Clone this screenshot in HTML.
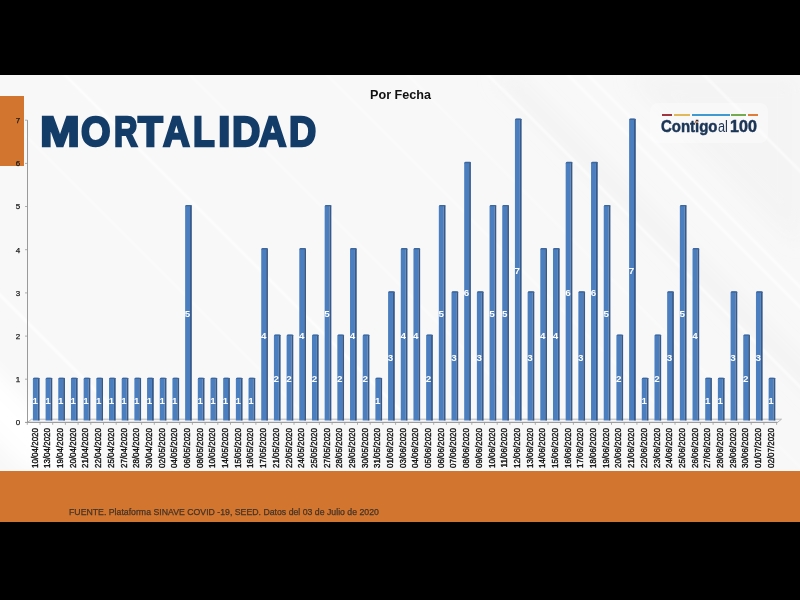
<!DOCTYPE html>
<html><head><meta charset="utf-8">
<style>
html,body{margin:0;padding:0;}
body{width:800px;height:600px;background:#000;position:relative;overflow:hidden;font-family:"Liberation Sans",sans-serif;}
#slide{position:absolute;left:0;top:75px;width:800px;height:396px;background:#f8f8f8;overflow:hidden;}
#orangeTop{position:absolute;left:0;top:96px;width:24px;height:70px;background:#d2752e;}
#band{position:absolute;left:0;top:471px;width:800px;height:51px;background:#d2752e;}
#fuente{position:absolute;left:69px;top:506.6px;font-size:8.6px;color:#443328;-webkit-text-stroke:0.25px #443328;transform:scaleX(1.016);transform-origin:0 0;white-space:nowrap;}
.tl{position:absolute;top:110.2px;font-size:43.2px;-webkit-text-stroke:2.4px #143c68;font-weight:bold;color:#143c68;white-space:nowrap;line-height:1;transform-origin:0 0;}
#porfecha{position:absolute;left:370px;top:88px;font-size:13.7px;transform:scaleX(0.922);font-weight:bold;color:#111;white-space:nowrap;line-height:1;transform-origin:0 0;}
svg{position:absolute;left:0;top:0;}
#logo{position:absolute;left:650px;top:103px;width:118px;height:40px;background:rgba(255,255,255,0.35);border-radius:8px;}
.cb{position:absolute;top:114px;height:2px;}
.lt{position:absolute;white-space:nowrap;line-height:1;color:#1b3556;transform-origin:0 0;}

.yl{font-size:8px;fill:#1a1a1a;text-anchor:middle;stroke:#1a1a1a;stroke-width:0.25px;}
.bl{font-size:9.8px;fill:#ffffff;text-anchor:middle;font-weight:bold;}
.xl{font-size:8.6px;fill:#0a0a0a;text-anchor:end;stroke:#0a0a0a;stroke-width:0.35px;}
</style></head><body>
<div id="slide">
<svg width="800" height="396" viewBox="0 75 800 396" style="position:absolute;left:0;top:0">
<defs><filter id="bl" x="-20%" y="-20%" width="140%" height="140%"><feGaussianBlur stdDeviation="0.9"/></filter>
<filter id="bl2" x="-50%" y="-50%" width="200%" height="200%"><feGaussianBlur stdDeviation="10"/></filter></defs>
<g filter="url(#bl2)">
<polygon points="-370,75 -300,75 95,470 25,470" fill="#ffffff" opacity="0.9"/>
<polygon points="493,75 513,75 908,470 888,470" fill="#e9e9e9" opacity="0.4"/>
<polygon points="629,75 800,75 800,246" fill="#eeeeee" opacity="0.4"/>
</g>
<g filter="url(#bl)" stroke="#ffffff">
<line x1="-225" y1="70" x2="180" y2="475" stroke-width="2.5" opacity="0.9"/>
<line x1="-40" y1="70" x2="365" y2="475" stroke-width="1.5" opacity="0.7"/>
<line x1="60" y1="70" x2="465" y2="475" stroke-width="2.2" opacity="0.95"/>
<line x1="185" y1="70" x2="590" y2="475" stroke-width="1.5" opacity="0.7"/>
<line x1="322" y1="70" x2="727" y2="475" stroke-width="1.5" opacity="0.7"/>
<line x1="403" y1="70" x2="808" y2="475" stroke-width="1.5" opacity="0.6"/>
<line x1="483" y1="70" x2="888" y2="475" stroke-width="2" opacity="0.85"/>
<line x1="563" y1="70" x2="968" y2="475" stroke-width="2" opacity="0.9"/>
<line x1="583" y1="70" x2="988" y2="475" stroke-width="2" opacity="0.9"/>
<line x1="699" y1="70" x2="1104" y2="475" stroke-width="2" opacity="0.8"/>
</g>
</svg>
</div>
<div id="orangeTop"></div>
<div id="band"></div>
<div id="fuente">FUENTE. Plataforma SINAVE COVID -19, SEED. Datos del 03 de Julio de 2020</div>
<div class="tl" style="left:40.29px;transform:scaleX(1.106)">M</div>
<div class="tl" style="left:81.02px;transform:scaleX(0.879)">O</div>
<div class="tl" style="left:114.09px;transform:scaleX(0.755)">R</div>
<div class="tl" style="left:138.14px;transform:scaleX(0.938)">T</div>
<div class="tl" style="left:162.50px;transform:scaleX(0.859)">A</div>
<div class="tl" style="left:193.05px;transform:scaleX(0.824)">L</div>
<div class="tl" style="left:217.91px;transform:scaleX(1.044)">I</div>
<div class="tl" style="left:232.19px;transform:scaleX(0.907)">D</div>
<div class="tl" style="left:259.40px;transform:scaleX(0.878)">A</div>
<div class="tl" style="left:288.56px;transform:scaleX(0.872)">D</div>
<div id="porfecha">Por Fecha</div>
<div id="logo"></div>
<div class="cb" style="left:662px;width:10px;background:#a0343f"></div>
<div class="cb" style="left:673.5px;width:16px;background:#e2b95a"></div>
<div class="cb" style="left:691.5px;width:38px;background:#3f9ad0"></div>
<div class="cb" style="left:731.3px;width:14.6px;background:#74ab50"></div>
<div class="cb" style="left:747.8px;width:9.8px;background:#e07d3a"></div>
<div class="lt" id="l1" style="left:661.3px;top:118.3px;font-size:17.1px;font-weight:bold;-webkit-text-stroke:0.5px #1b3556;transform:scaleX(0.875)">Contigo</div>
<div class="lt" id="l2" style="left:718.2px;top:118.6px;font-size:16px;font-weight:normal;transform:scaleX(0.8)">al</div>
<div class="lt" id="l3" style="left:730.3px;top:119.2px;font-size:16.8px;font-weight:bold;-webkit-text-stroke:0.5px #1b3556;transform:scaleX(0.96)">100</div>
<div style="position:absolute;left:695.3px;top:121.1px;width:2.8px;height:2.3px;background:#d68a55"></div>

<svg width="800" height="600" viewBox="0 0 800 600">
<line x1="27.5" y1="120.2" x2="27.5" y2="422.5" stroke="#9a9a9a" stroke-width="1"/>
<text x="18" y="425.3" class="yl">0</text>
<line x1="25" y1="379.2" x2="27.5" y2="379.2" stroke="#9a9a9a" stroke-width="0.8"/>
<text x="18" y="382.1" class="yl">1</text>
<line x1="25" y1="336.1" x2="27.5" y2="336.1" stroke="#9a9a9a" stroke-width="0.8"/>
<text x="18" y="339.0" class="yl">2</text>
<line x1="25" y1="292.9" x2="27.5" y2="292.9" stroke="#9a9a9a" stroke-width="0.8"/>
<text x="18" y="295.8" class="yl">3</text>
<line x1="25" y1="249.7" x2="27.5" y2="249.7" stroke="#9a9a9a" stroke-width="0.8"/>
<text x="18" y="252.6" class="yl">4</text>
<line x1="25" y1="206.5" x2="27.5" y2="206.5" stroke="#9a9a9a" stroke-width="0.8"/>
<text x="18" y="209.4" class="yl">5</text>
<line x1="25" y1="163.4" x2="27.5" y2="163.4" stroke="#9a9a9a" stroke-width="0.8"/>
<text x="18" y="166.3" class="yl">6</text>
<line x1="25" y1="120.2" x2="27.5" y2="120.2" stroke="#9a9a9a" stroke-width="0.8"/>
<text x="18" y="123.1" class="yl">7</text>
<path d="M27.5 422.4 L777.5 422.4 L781.5 419.2 L31.5 419.2 Z" fill="#f4f6f9" stroke="#a8a8a8" stroke-width="0.8"/>
<line x1="25" y1="422.4" x2="777.5" y2="422.4" stroke="#9a9a9a" stroke-width="1"/>
<line x1="27.30" y1="422.4" x2="27.30" y2="424.8" stroke="#9a9a9a" stroke-width="0.8"/>
<line x1="40.00" y1="422.4" x2="40.00" y2="424.8" stroke="#9a9a9a" stroke-width="0.8"/>
<line x1="52.70" y1="422.4" x2="52.70" y2="424.8" stroke="#9a9a9a" stroke-width="0.8"/>
<line x1="65.40" y1="422.4" x2="65.40" y2="424.8" stroke="#9a9a9a" stroke-width="0.8"/>
<line x1="78.10" y1="422.4" x2="78.10" y2="424.8" stroke="#9a9a9a" stroke-width="0.8"/>
<line x1="90.80" y1="422.4" x2="90.80" y2="424.8" stroke="#9a9a9a" stroke-width="0.8"/>
<line x1="103.50" y1="422.4" x2="103.50" y2="424.8" stroke="#9a9a9a" stroke-width="0.8"/>
<line x1="116.20" y1="422.4" x2="116.20" y2="424.8" stroke="#9a9a9a" stroke-width="0.8"/>
<line x1="128.90" y1="422.4" x2="128.90" y2="424.8" stroke="#9a9a9a" stroke-width="0.8"/>
<line x1="141.60" y1="422.4" x2="141.60" y2="424.8" stroke="#9a9a9a" stroke-width="0.8"/>
<line x1="154.30" y1="422.4" x2="154.30" y2="424.8" stroke="#9a9a9a" stroke-width="0.8"/>
<line x1="167.00" y1="422.4" x2="167.00" y2="424.8" stroke="#9a9a9a" stroke-width="0.8"/>
<line x1="179.70" y1="422.4" x2="179.70" y2="424.8" stroke="#9a9a9a" stroke-width="0.8"/>
<line x1="192.40" y1="422.4" x2="192.40" y2="424.8" stroke="#9a9a9a" stroke-width="0.8"/>
<line x1="205.10" y1="422.4" x2="205.10" y2="424.8" stroke="#9a9a9a" stroke-width="0.8"/>
<line x1="217.80" y1="422.4" x2="217.80" y2="424.8" stroke="#9a9a9a" stroke-width="0.8"/>
<line x1="230.50" y1="422.4" x2="230.50" y2="424.8" stroke="#9a9a9a" stroke-width="0.8"/>
<line x1="243.20" y1="422.4" x2="243.20" y2="424.8" stroke="#9a9a9a" stroke-width="0.8"/>
<line x1="255.90" y1="422.4" x2="255.90" y2="424.8" stroke="#9a9a9a" stroke-width="0.8"/>
<line x1="268.60" y1="422.4" x2="268.60" y2="424.8" stroke="#9a9a9a" stroke-width="0.8"/>
<line x1="281.30" y1="422.4" x2="281.30" y2="424.8" stroke="#9a9a9a" stroke-width="0.8"/>
<line x1="294.00" y1="422.4" x2="294.00" y2="424.8" stroke="#9a9a9a" stroke-width="0.8"/>
<line x1="306.70" y1="422.4" x2="306.70" y2="424.8" stroke="#9a9a9a" stroke-width="0.8"/>
<line x1="319.40" y1="422.4" x2="319.40" y2="424.8" stroke="#9a9a9a" stroke-width="0.8"/>
<line x1="332.10" y1="422.4" x2="332.10" y2="424.8" stroke="#9a9a9a" stroke-width="0.8"/>
<line x1="344.80" y1="422.4" x2="344.80" y2="424.8" stroke="#9a9a9a" stroke-width="0.8"/>
<line x1="357.50" y1="422.4" x2="357.50" y2="424.8" stroke="#9a9a9a" stroke-width="0.8"/>
<line x1="370.20" y1="422.4" x2="370.20" y2="424.8" stroke="#9a9a9a" stroke-width="0.8"/>
<line x1="382.90" y1="422.4" x2="382.90" y2="424.8" stroke="#9a9a9a" stroke-width="0.8"/>
<line x1="395.60" y1="422.4" x2="395.60" y2="424.8" stroke="#9a9a9a" stroke-width="0.8"/>
<line x1="408.30" y1="422.4" x2="408.30" y2="424.8" stroke="#9a9a9a" stroke-width="0.8"/>
<line x1="421.00" y1="422.4" x2="421.00" y2="424.8" stroke="#9a9a9a" stroke-width="0.8"/>
<line x1="433.70" y1="422.4" x2="433.70" y2="424.8" stroke="#9a9a9a" stroke-width="0.8"/>
<line x1="446.40" y1="422.4" x2="446.40" y2="424.8" stroke="#9a9a9a" stroke-width="0.8"/>
<line x1="459.10" y1="422.4" x2="459.10" y2="424.8" stroke="#9a9a9a" stroke-width="0.8"/>
<line x1="471.80" y1="422.4" x2="471.80" y2="424.8" stroke="#9a9a9a" stroke-width="0.8"/>
<line x1="484.50" y1="422.4" x2="484.50" y2="424.8" stroke="#9a9a9a" stroke-width="0.8"/>
<line x1="497.20" y1="422.4" x2="497.20" y2="424.8" stroke="#9a9a9a" stroke-width="0.8"/>
<line x1="509.90" y1="422.4" x2="509.90" y2="424.8" stroke="#9a9a9a" stroke-width="0.8"/>
<line x1="522.60" y1="422.4" x2="522.60" y2="424.8" stroke="#9a9a9a" stroke-width="0.8"/>
<line x1="535.30" y1="422.4" x2="535.30" y2="424.8" stroke="#9a9a9a" stroke-width="0.8"/>
<line x1="548.00" y1="422.4" x2="548.00" y2="424.8" stroke="#9a9a9a" stroke-width="0.8"/>
<line x1="560.70" y1="422.4" x2="560.70" y2="424.8" stroke="#9a9a9a" stroke-width="0.8"/>
<line x1="573.40" y1="422.4" x2="573.40" y2="424.8" stroke="#9a9a9a" stroke-width="0.8"/>
<line x1="586.10" y1="422.4" x2="586.10" y2="424.8" stroke="#9a9a9a" stroke-width="0.8"/>
<line x1="598.80" y1="422.4" x2="598.80" y2="424.8" stroke="#9a9a9a" stroke-width="0.8"/>
<line x1="611.50" y1="422.4" x2="611.50" y2="424.8" stroke="#9a9a9a" stroke-width="0.8"/>
<line x1="624.20" y1="422.4" x2="624.20" y2="424.8" stroke="#9a9a9a" stroke-width="0.8"/>
<line x1="636.90" y1="422.4" x2="636.90" y2="424.8" stroke="#9a9a9a" stroke-width="0.8"/>
<line x1="649.60" y1="422.4" x2="649.60" y2="424.8" stroke="#9a9a9a" stroke-width="0.8"/>
<line x1="662.30" y1="422.4" x2="662.30" y2="424.8" stroke="#9a9a9a" stroke-width="0.8"/>
<line x1="675.00" y1="422.4" x2="675.00" y2="424.8" stroke="#9a9a9a" stroke-width="0.8"/>
<line x1="687.70" y1="422.4" x2="687.70" y2="424.8" stroke="#9a9a9a" stroke-width="0.8"/>
<line x1="700.40" y1="422.4" x2="700.40" y2="424.8" stroke="#9a9a9a" stroke-width="0.8"/>
<line x1="713.10" y1="422.4" x2="713.10" y2="424.8" stroke="#9a9a9a" stroke-width="0.8"/>
<line x1="725.80" y1="422.4" x2="725.80" y2="424.8" stroke="#9a9a9a" stroke-width="0.8"/>
<line x1="738.50" y1="422.4" x2="738.50" y2="424.8" stroke="#9a9a9a" stroke-width="0.8"/>
<line x1="751.20" y1="422.4" x2="751.20" y2="424.8" stroke="#9a9a9a" stroke-width="0.8"/>
<line x1="763.90" y1="422.4" x2="763.90" y2="424.8" stroke="#9a9a9a" stroke-width="0.8"/>
<line x1="776.60" y1="422.4" x2="776.60" y2="424.8" stroke="#9a9a9a" stroke-width="0.8"/>
<path d="M32.90 420.6 L32.90 379.13 Q32.90 377.83 34.20 377.83 L37.80 377.83 L37.80 420.6 Z" fill="#4a7ebf"/>
<rect x="37.80" y="378.13" width="1.8" height="42.47" fill="#36598a"/>
<path d="M33.20 379.03 Q33.20 377.63 34.40 377.63 L38.90 377.63 L39.60 378.43 L39.60 379.03 Z" fill="#3d679c"/>
<text x="35.30" y="403.66" class="bl">1</text>
<path d="M45.59 420.6 L45.59 379.13 Q45.59 377.83 46.88 377.83 L50.48 377.83 L50.48 420.6 Z" fill="#4a7ebf"/>
<rect x="50.48" y="378.13" width="1.8" height="42.47" fill="#36598a"/>
<path d="M45.88 379.03 Q45.88 377.63 47.09 377.63 L51.59 377.63 L52.28 378.43 L52.28 379.03 Z" fill="#3d679c"/>
<text x="47.98" y="403.66" class="bl">1</text>
<path d="M58.27 420.6 L58.27 379.13 Q58.27 377.83 59.57 377.83 L63.17 377.83 L63.17 420.6 Z" fill="#4a7ebf"/>
<rect x="63.17" y="378.13" width="1.8" height="42.47" fill="#36598a"/>
<path d="M58.57 379.03 Q58.57 377.63 59.77 377.63 L64.27 377.63 L64.97 378.43 L64.97 379.03 Z" fill="#3d679c"/>
<text x="60.67" y="403.66" class="bl">1</text>
<path d="M70.95 420.6 L70.95 379.13 Q70.95 377.83 72.25 377.83 L75.85 377.83 L75.85 420.6 Z" fill="#4a7ebf"/>
<rect x="75.85" y="378.13" width="1.8" height="42.47" fill="#36598a"/>
<path d="M71.25 379.03 Q71.25 377.63 72.45 377.63 L76.95 377.63 L77.65 378.43 L77.65 379.03 Z" fill="#3d679c"/>
<text x="73.35" y="403.66" class="bl">1</text>
<path d="M83.64 420.6 L83.64 379.13 Q83.64 377.83 84.94 377.83 L88.54 377.83 L88.54 420.6 Z" fill="#4a7ebf"/>
<rect x="88.54" y="378.13" width="1.8" height="42.47" fill="#36598a"/>
<path d="M83.94 379.03 Q83.94 377.63 85.14 377.63 L89.64 377.63 L90.34 378.43 L90.34 379.03 Z" fill="#3d679c"/>
<text x="86.04" y="403.66" class="bl">1</text>
<path d="M96.32 420.6 L96.32 379.13 Q96.32 377.83 97.62 377.83 L101.22 377.83 L101.22 420.6 Z" fill="#4a7ebf"/>
<rect x="101.22" y="378.13" width="1.8" height="42.47" fill="#36598a"/>
<path d="M96.62 379.03 Q96.62 377.63 97.82 377.63 L102.32 377.63 L103.02 378.43 L103.02 379.03 Z" fill="#3d679c"/>
<text x="98.72" y="403.66" class="bl">1</text>
<path d="M109.01 420.6 L109.01 379.13 Q109.01 377.83 110.31 377.83 L113.91 377.83 L113.91 420.6 Z" fill="#4a7ebf"/>
<rect x="113.91" y="378.13" width="1.8" height="42.47" fill="#36598a"/>
<path d="M109.31 379.03 Q109.31 377.63 110.51 377.63 L115.01 377.63 L115.71 378.43 L115.71 379.03 Z" fill="#3d679c"/>
<text x="111.41" y="403.66" class="bl">1</text>
<path d="M121.69 420.6 L121.69 379.13 Q121.69 377.83 122.99 377.83 L126.59 377.83 L126.59 420.6 Z" fill="#4a7ebf"/>
<rect x="126.59" y="378.13" width="1.8" height="42.47" fill="#36598a"/>
<path d="M121.99 379.03 Q121.99 377.63 123.19 377.63 L127.69 377.63 L128.40 378.43 L128.40 379.03 Z" fill="#3d679c"/>
<text x="124.09" y="403.66" class="bl">1</text>
<path d="M134.38 420.6 L134.38 379.13 Q134.38 377.83 135.68 377.83 L139.28 377.83 L139.28 420.6 Z" fill="#4a7ebf"/>
<rect x="139.28" y="378.13" width="1.8" height="42.47" fill="#36598a"/>
<path d="M134.68 379.03 Q134.68 377.63 135.88 377.63 L140.38 377.63 L141.08 378.43 L141.08 379.03 Z" fill="#3d679c"/>
<text x="136.78" y="403.66" class="bl">1</text>
<path d="M147.06 420.6 L147.06 379.13 Q147.06 377.83 148.37 377.83 L151.97 377.83 L151.97 420.6 Z" fill="#4a7ebf"/>
<rect x="151.97" y="378.13" width="1.8" height="42.47" fill="#36598a"/>
<path d="M147.37 379.03 Q147.37 377.63 148.56 377.63 L153.06 377.63 L153.77 378.43 L153.77 379.03 Z" fill="#3d679c"/>
<text x="149.47" y="403.66" class="bl">1</text>
<path d="M159.75 420.6 L159.75 379.13 Q159.75 377.83 161.05 377.83 L164.65 377.83 L164.65 420.6 Z" fill="#4a7ebf"/>
<rect x="164.65" y="378.13" width="1.8" height="42.47" fill="#36598a"/>
<path d="M160.05 379.03 Q160.05 377.63 161.25 377.63 L165.75 377.63 L166.45 378.43 L166.45 379.03 Z" fill="#3d679c"/>
<text x="162.15" y="403.66" class="bl">1</text>
<path d="M172.43 420.6 L172.43 379.13 Q172.43 377.83 173.73 377.83 L177.33 377.83 L177.33 420.6 Z" fill="#4a7ebf"/>
<rect x="177.33" y="378.13" width="1.8" height="42.47" fill="#36598a"/>
<path d="M172.73 379.03 Q172.73 377.63 173.93 377.63 L178.43 377.63 L179.13 378.43 L179.13 379.03 Z" fill="#3d679c"/>
<text x="174.83" y="403.66" class="bl">1</text>
<path d="M185.12 420.6 L185.12 206.45 Q185.12 205.15 186.42 205.15 L190.02 205.15 L190.02 420.6 Z" fill="#4a7ebf"/>
<rect x="190.02" y="205.45" width="1.8" height="215.15" fill="#36598a"/>
<path d="M185.42 206.35 Q185.42 204.95 186.62 204.95 L191.12 204.95 L191.82 205.75 L191.82 206.35 Z" fill="#3d679c"/>
<text x="187.52" y="317.32" class="bl">5</text>
<path d="M197.80 420.6 L197.80 379.13 Q197.80 377.83 199.10 377.83 L202.70 377.83 L202.70 420.6 Z" fill="#4a7ebf"/>
<rect x="202.70" y="378.13" width="1.8" height="42.47" fill="#36598a"/>
<path d="M198.10 379.03 Q198.10 377.63 199.30 377.63 L203.80 377.63 L204.50 378.43 L204.50 379.03 Z" fill="#3d679c"/>
<text x="200.20" y="403.66" class="bl">1</text>
<path d="M210.49 420.6 L210.49 379.13 Q210.49 377.83 211.79 377.83 L215.39 377.83 L215.39 420.6 Z" fill="#4a7ebf"/>
<rect x="215.39" y="378.13" width="1.8" height="42.47" fill="#36598a"/>
<path d="M210.79 379.03 Q210.79 377.63 211.99 377.63 L216.49 377.63 L217.19 378.43 L217.19 379.03 Z" fill="#3d679c"/>
<text x="212.89" y="403.66" class="bl">1</text>
<path d="M223.17 420.6 L223.17 379.13 Q223.17 377.83 224.47 377.83 L228.07 377.83 L228.07 420.6 Z" fill="#4a7ebf"/>
<rect x="228.07" y="378.13" width="1.8" height="42.47" fill="#36598a"/>
<path d="M223.47 379.03 Q223.47 377.63 224.67 377.63 L229.17 377.63 L229.88 378.43 L229.88 379.03 Z" fill="#3d679c"/>
<text x="225.57" y="403.66" class="bl">1</text>
<path d="M235.86 420.6 L235.86 379.13 Q235.86 377.83 237.16 377.83 L240.76 377.83 L240.76 420.6 Z" fill="#4a7ebf"/>
<rect x="240.76" y="378.13" width="1.8" height="42.47" fill="#36598a"/>
<path d="M236.16 379.03 Q236.16 377.63 237.36 377.63 L241.86 377.63 L242.56 378.43 L242.56 379.03 Z" fill="#3d679c"/>
<text x="238.26" y="403.66" class="bl">1</text>
<path d="M248.54 420.6 L248.54 379.13 Q248.54 377.83 249.84 377.83 L253.44 377.83 L253.44 420.6 Z" fill="#4a7ebf"/>
<rect x="253.44" y="378.13" width="1.8" height="42.47" fill="#36598a"/>
<path d="M248.84 379.03 Q248.84 377.63 250.04 377.63 L254.54 377.63 L255.25 378.43 L255.25 379.03 Z" fill="#3d679c"/>
<text x="250.94" y="403.66" class="bl">1</text>
<path d="M261.23 420.6 L261.23 249.62 Q261.23 248.32 262.53 248.32 L266.13 248.32 L266.13 420.6 Z" fill="#4a7ebf"/>
<rect x="266.13" y="248.62" width="1.8" height="171.98" fill="#36598a"/>
<path d="M261.53 249.52 Q261.53 248.12 262.73 248.12 L267.23 248.12 L267.93 248.92 L267.93 249.52 Z" fill="#3d679c"/>
<text x="263.63" y="338.91" class="bl">4</text>
<path d="M273.92 420.6 L273.92 335.96 Q273.92 334.66 275.22 334.66 L278.81 334.66 L278.81 420.6 Z" fill="#4a7ebf"/>
<rect x="278.81" y="334.96" width="1.8" height="85.64" fill="#36598a"/>
<path d="M274.22 335.86 Q274.22 334.46 275.42 334.46 L279.92 334.46 L280.62 335.26 L280.62 335.86 Z" fill="#3d679c"/>
<text x="276.31" y="382.08" class="bl">2</text>
<path d="M286.60 420.6 L286.60 335.96 Q286.60 334.66 287.90 334.66 L291.50 334.66 L291.50 420.6 Z" fill="#4a7ebf"/>
<rect x="291.50" y="334.96" width="1.8" height="85.64" fill="#36598a"/>
<path d="M286.90 335.86 Q286.90 334.46 288.10 334.46 L292.60 334.46 L293.30 335.26 L293.30 335.86 Z" fill="#3d679c"/>
<text x="289.00" y="382.08" class="bl">2</text>
<path d="M299.29 420.6 L299.29 249.62 Q299.29 248.32 300.59 248.32 L304.19 248.32 L304.19 420.6 Z" fill="#4a7ebf"/>
<rect x="304.19" y="248.62" width="1.8" height="171.98" fill="#36598a"/>
<path d="M299.59 249.52 Q299.59 248.12 300.79 248.12 L305.29 248.12 L305.99 248.92 L305.99 249.52 Z" fill="#3d679c"/>
<text x="301.69" y="338.91" class="bl">4</text>
<path d="M311.97 420.6 L311.97 335.96 Q311.97 334.66 313.27 334.66 L316.87 334.66 L316.87 420.6 Z" fill="#4a7ebf"/>
<rect x="316.87" y="334.96" width="1.8" height="85.64" fill="#36598a"/>
<path d="M312.27 335.86 Q312.27 334.46 313.47 334.46 L317.97 334.46 L318.67 335.26 L318.67 335.86 Z" fill="#3d679c"/>
<text x="314.37" y="382.08" class="bl">2</text>
<path d="M324.66 420.6 L324.66 206.45 Q324.66 205.15 325.96 205.15 L329.56 205.15 L329.56 420.6 Z" fill="#4a7ebf"/>
<rect x="329.56" y="205.45" width="1.8" height="215.15" fill="#36598a"/>
<path d="M324.96 206.35 Q324.96 204.95 326.16 204.95 L330.66 204.95 L331.36 205.75 L331.36 206.35 Z" fill="#3d679c"/>
<text x="327.06" y="317.32" class="bl">5</text>
<path d="M337.34 420.6 L337.34 335.96 Q337.34 334.66 338.64 334.66 L342.24 334.66 L342.24 420.6 Z" fill="#4a7ebf"/>
<rect x="342.24" y="334.96" width="1.8" height="85.64" fill="#36598a"/>
<path d="M337.64 335.86 Q337.64 334.46 338.84 334.46 L343.34 334.46 L344.04 335.26 L344.04 335.86 Z" fill="#3d679c"/>
<text x="339.74" y="382.08" class="bl">2</text>
<path d="M350.03 420.6 L350.03 249.62 Q350.03 248.32 351.33 248.32 L354.93 248.32 L354.93 420.6 Z" fill="#4a7ebf"/>
<rect x="354.93" y="248.62" width="1.8" height="171.98" fill="#36598a"/>
<path d="M350.33 249.52 Q350.33 248.12 351.53 248.12 L356.03 248.12 L356.73 248.92 L356.73 249.52 Z" fill="#3d679c"/>
<text x="352.43" y="338.91" class="bl">4</text>
<path d="M362.71 420.6 L362.71 335.96 Q362.71 334.66 364.01 334.66 L367.61 334.66 L367.61 420.6 Z" fill="#4a7ebf"/>
<rect x="367.61" y="334.96" width="1.8" height="85.64" fill="#36598a"/>
<path d="M363.01 335.86 Q363.01 334.46 364.21 334.46 L368.71 334.46 L369.41 335.26 L369.41 335.86 Z" fill="#3d679c"/>
<text x="365.11" y="382.08" class="bl">2</text>
<path d="M375.40 420.6 L375.40 379.13 Q375.40 377.83 376.70 377.83 L380.30 377.83 L380.30 420.6 Z" fill="#4a7ebf"/>
<rect x="380.30" y="378.13" width="1.8" height="42.47" fill="#36598a"/>
<path d="M375.70 379.03 Q375.70 377.63 376.90 377.63 L381.40 377.63 L382.10 378.43 L382.10 379.03 Z" fill="#3d679c"/>
<text x="377.80" y="403.66" class="bl">1</text>
<path d="M388.08 420.6 L388.08 292.79 Q388.08 291.49 389.38 291.49 L392.98 291.49 L392.98 420.6 Z" fill="#4a7ebf"/>
<rect x="392.98" y="291.79" width="1.8" height="128.81" fill="#36598a"/>
<path d="M388.38 292.69 Q388.38 291.29 389.58 291.29 L394.08 291.29 L394.78 292.09 L394.78 292.69 Z" fill="#3d679c"/>
<text x="390.48" y="360.50" class="bl">3</text>
<path d="M400.77 420.6 L400.77 249.62 Q400.77 248.32 402.07 248.32 L405.67 248.32 L405.67 420.6 Z" fill="#4a7ebf"/>
<rect x="405.67" y="248.62" width="1.8" height="171.98" fill="#36598a"/>
<path d="M401.07 249.52 Q401.07 248.12 402.27 248.12 L406.77 248.12 L407.47 248.92 L407.47 249.52 Z" fill="#3d679c"/>
<text x="403.17" y="338.91" class="bl">4</text>
<path d="M413.45 420.6 L413.45 249.62 Q413.45 248.32 414.75 248.32 L418.35 248.32 L418.35 420.6 Z" fill="#4a7ebf"/>
<rect x="418.35" y="248.62" width="1.8" height="171.98" fill="#36598a"/>
<path d="M413.75 249.52 Q413.75 248.12 414.95 248.12 L419.45 248.12 L420.15 248.92 L420.15 249.52 Z" fill="#3d679c"/>
<text x="415.85" y="338.91" class="bl">4</text>
<path d="M426.14 420.6 L426.14 335.96 Q426.14 334.66 427.44 334.66 L431.04 334.66 L431.04 420.6 Z" fill="#4a7ebf"/>
<rect x="431.04" y="334.96" width="1.8" height="85.64" fill="#36598a"/>
<path d="M426.44 335.86 Q426.44 334.46 427.64 334.46 L432.14 334.46 L432.84 335.26 L432.84 335.86 Z" fill="#3d679c"/>
<text x="428.54" y="382.08" class="bl">2</text>
<path d="M438.82 420.6 L438.82 206.45 Q438.82 205.15 440.12 205.15 L443.72 205.15 L443.72 420.6 Z" fill="#4a7ebf"/>
<rect x="443.72" y="205.45" width="1.8" height="215.15" fill="#36598a"/>
<path d="M439.12 206.35 Q439.12 204.95 440.32 204.95 L444.82 204.95 L445.52 205.75 L445.52 206.35 Z" fill="#3d679c"/>
<text x="441.22" y="317.32" class="bl">5</text>
<path d="M451.51 420.6 L451.51 292.79 Q451.51 291.49 452.81 291.49 L456.41 291.49 L456.41 420.6 Z" fill="#4a7ebf"/>
<rect x="456.41" y="291.79" width="1.8" height="128.81" fill="#36598a"/>
<path d="M451.81 292.69 Q451.81 291.29 453.01 291.29 L457.51 291.29 L458.21 292.09 L458.21 292.69 Z" fill="#3d679c"/>
<text x="453.91" y="360.50" class="bl">3</text>
<path d="M464.19 420.6 L464.19 163.28 Q464.19 161.98 465.49 161.98 L469.09 161.98 L469.09 420.6 Z" fill="#4a7ebf"/>
<rect x="469.09" y="162.28" width="1.8" height="258.32" fill="#36598a"/>
<path d="M464.49 163.18 Q464.49 161.78 465.69 161.78 L470.19 161.78 L470.89 162.58 L470.89 163.18 Z" fill="#3d679c"/>
<text x="466.59" y="295.74" class="bl">6</text>
<path d="M476.88 420.6 L476.88 292.79 Q476.88 291.49 478.18 291.49 L481.78 291.49 L481.78 420.6 Z" fill="#4a7ebf"/>
<rect x="481.78" y="291.79" width="1.8" height="128.81" fill="#36598a"/>
<path d="M477.18 292.69 Q477.18 291.29 478.38 291.29 L482.88 291.29 L483.58 292.09 L483.58 292.69 Z" fill="#3d679c"/>
<text x="479.28" y="360.50" class="bl">3</text>
<path d="M489.56 420.6 L489.56 206.45 Q489.56 205.15 490.86 205.15 L494.46 205.15 L494.46 420.6 Z" fill="#4a7ebf"/>
<rect x="494.46" y="205.45" width="1.8" height="215.15" fill="#36598a"/>
<path d="M489.86 206.35 Q489.86 204.95 491.06 204.95 L495.56 204.95 L496.26 205.75 L496.26 206.35 Z" fill="#3d679c"/>
<text x="491.96" y="317.32" class="bl">5</text>
<path d="M502.25 420.6 L502.25 206.45 Q502.25 205.15 503.55 205.15 L507.15 205.15 L507.15 420.6 Z" fill="#4a7ebf"/>
<rect x="507.15" y="205.45" width="1.8" height="215.15" fill="#36598a"/>
<path d="M502.55 206.35 Q502.55 204.95 503.75 204.95 L508.25 204.95 L508.95 205.75 L508.95 206.35 Z" fill="#3d679c"/>
<text x="504.65" y="317.32" class="bl">5</text>
<path d="M514.93 420.6 L514.93 120.11 Q514.93 118.81 516.23 118.81 L519.83 118.81 L519.83 420.6 Z" fill="#4a7ebf"/>
<rect x="519.83" y="119.11" width="1.8" height="301.49" fill="#36598a"/>
<path d="M515.23 120.01 Q515.23 118.61 516.43 118.61 L520.93 118.61 L521.63 119.41 L521.63 120.01 Z" fill="#3d679c"/>
<text x="517.33" y="274.15" class="bl">7</text>
<path d="M527.62 420.6 L527.62 292.79 Q527.62 291.49 528.91 291.49 L532.51 291.49 L532.51 420.6 Z" fill="#4a7ebf"/>
<rect x="532.51" y="291.79" width="1.8" height="128.81" fill="#36598a"/>
<path d="M527.91 292.69 Q527.91 291.29 529.12 291.29 L533.62 291.29 L534.31 292.09 L534.31 292.69 Z" fill="#3d679c"/>
<text x="530.01" y="360.50" class="bl">3</text>
<path d="M540.30 420.6 L540.30 249.62 Q540.30 248.32 541.60 248.32 L545.20 248.32 L545.20 420.6 Z" fill="#4a7ebf"/>
<rect x="545.20" y="248.62" width="1.8" height="171.98" fill="#36598a"/>
<path d="M540.60 249.52 Q540.60 248.12 541.80 248.12 L546.30 248.12 L547.00 248.92 L547.00 249.52 Z" fill="#3d679c"/>
<text x="542.70" y="338.91" class="bl">4</text>
<path d="M552.99 420.6 L552.99 249.62 Q552.99 248.32 554.28 248.32 L557.88 248.32 L557.88 420.6 Z" fill="#4a7ebf"/>
<rect x="557.88" y="248.62" width="1.8" height="171.98" fill="#36598a"/>
<path d="M553.28 249.52 Q553.28 248.12 554.49 248.12 L558.99 248.12 L559.68 248.92 L559.68 249.52 Z" fill="#3d679c"/>
<text x="555.38" y="338.91" class="bl">4</text>
<path d="M565.67 420.6 L565.67 163.28 Q565.67 161.98 566.97 161.98 L570.57 161.98 L570.57 420.6 Z" fill="#4a7ebf"/>
<rect x="570.57" y="162.28" width="1.8" height="258.32" fill="#36598a"/>
<path d="M565.97 163.18 Q565.97 161.78 567.17 161.78 L571.67 161.78 L572.37 162.58 L572.37 163.18 Z" fill="#3d679c"/>
<text x="568.07" y="295.74" class="bl">6</text>
<path d="M578.36 420.6 L578.36 292.79 Q578.36 291.49 579.65 291.49 L583.25 291.49 L583.25 420.6 Z" fill="#4a7ebf"/>
<rect x="583.25" y="291.79" width="1.8" height="128.81" fill="#36598a"/>
<path d="M578.65 292.69 Q578.65 291.29 579.86 291.29 L584.36 291.29 L585.05 292.09 L585.05 292.69 Z" fill="#3d679c"/>
<text x="580.75" y="360.50" class="bl">3</text>
<path d="M591.04 420.6 L591.04 163.28 Q591.04 161.98 592.34 161.98 L595.94 161.98 L595.94 420.6 Z" fill="#4a7ebf"/>
<rect x="595.94" y="162.28" width="1.8" height="258.32" fill="#36598a"/>
<path d="M591.34 163.18 Q591.34 161.78 592.54 161.78 L597.04 161.78 L597.74 162.58 L597.74 163.18 Z" fill="#3d679c"/>
<text x="593.44" y="295.74" class="bl">6</text>
<path d="M603.73 420.6 L603.73 206.45 Q603.73 205.15 605.02 205.15 L608.62 205.15 L608.62 420.6 Z" fill="#4a7ebf"/>
<rect x="608.62" y="205.45" width="1.8" height="215.15" fill="#36598a"/>
<path d="M604.02 206.35 Q604.02 204.95 605.23 204.95 L609.73 204.95 L610.42 205.75 L610.42 206.35 Z" fill="#3d679c"/>
<text x="606.12" y="317.32" class="bl">5</text>
<path d="M616.41 420.6 L616.41 335.96 Q616.41 334.66 617.71 334.66 L621.31 334.66 L621.31 420.6 Z" fill="#4a7ebf"/>
<rect x="621.31" y="334.96" width="1.8" height="85.64" fill="#36598a"/>
<path d="M616.71 335.86 Q616.71 334.46 617.91 334.46 L622.41 334.46 L623.11 335.26 L623.11 335.86 Z" fill="#3d679c"/>
<text x="618.81" y="382.08" class="bl">2</text>
<path d="M629.10 420.6 L629.10 120.11 Q629.10 118.81 630.39 118.81 L634.00 118.81 L634.00 420.6 Z" fill="#4a7ebf"/>
<rect x="634.00" y="119.11" width="1.8" height="301.49" fill="#36598a"/>
<path d="M629.39 120.01 Q629.39 118.61 630.60 118.61 L635.10 118.61 L635.79 119.41 L635.79 120.01 Z" fill="#3d679c"/>
<text x="631.50" y="274.15" class="bl">7</text>
<path d="M641.78 420.6 L641.78 379.13 Q641.78 377.83 643.08 377.83 L646.68 377.83 L646.68 420.6 Z" fill="#4a7ebf"/>
<rect x="646.68" y="378.13" width="1.8" height="42.47" fill="#36598a"/>
<path d="M642.08 379.03 Q642.08 377.63 643.28 377.63 L647.78 377.63 L648.48 378.43 L648.48 379.03 Z" fill="#3d679c"/>
<text x="644.18" y="403.66" class="bl">1</text>
<path d="M654.47 420.6 L654.47 335.96 Q654.47 334.66 655.76 334.66 L659.37 334.66 L659.37 420.6 Z" fill="#4a7ebf"/>
<rect x="659.37" y="334.96" width="1.8" height="85.64" fill="#36598a"/>
<path d="M654.76 335.86 Q654.76 334.46 655.97 334.46 L660.47 334.46 L661.16 335.26 L661.16 335.86 Z" fill="#3d679c"/>
<text x="656.87" y="382.08" class="bl">2</text>
<path d="M667.15 420.6 L667.15 292.79 Q667.15 291.49 668.45 291.49 L672.05 291.49 L672.05 420.6 Z" fill="#4a7ebf"/>
<rect x="672.05" y="291.79" width="1.8" height="128.81" fill="#36598a"/>
<path d="M667.45 292.69 Q667.45 291.29 668.65 291.29 L673.15 291.29 L673.85 292.09 L673.85 292.69 Z" fill="#3d679c"/>
<text x="669.55" y="360.50" class="bl">3</text>
<path d="M679.84 420.6 L679.84 206.45 Q679.84 205.15 681.13 205.15 L684.74 205.15 L684.74 420.6 Z" fill="#4a7ebf"/>
<rect x="684.74" y="205.45" width="1.8" height="215.15" fill="#36598a"/>
<path d="M680.13 206.35 Q680.13 204.95 681.34 204.95 L685.84 204.95 L686.53 205.75 L686.53 206.35 Z" fill="#3d679c"/>
<text x="682.24" y="317.32" class="bl">5</text>
<path d="M692.52 420.6 L692.52 249.62 Q692.52 248.32 693.82 248.32 L697.42 248.32 L697.42 420.6 Z" fill="#4a7ebf"/>
<rect x="697.42" y="248.62" width="1.8" height="171.98" fill="#36598a"/>
<path d="M692.82 249.52 Q692.82 248.12 694.02 248.12 L698.52 248.12 L699.22 248.92 L699.22 249.52 Z" fill="#3d679c"/>
<text x="694.92" y="338.91" class="bl">4</text>
<path d="M705.21 420.6 L705.21 379.13 Q705.21 377.83 706.50 377.83 L710.11 377.83 L710.11 420.6 Z" fill="#4a7ebf"/>
<rect x="710.11" y="378.13" width="1.8" height="42.47" fill="#36598a"/>
<path d="M705.50 379.03 Q705.50 377.63 706.71 377.63 L711.21 377.63 L711.90 378.43 L711.90 379.03 Z" fill="#3d679c"/>
<text x="707.61" y="403.66" class="bl">1</text>
<path d="M717.89 420.6 L717.89 379.13 Q717.89 377.83 719.19 377.83 L722.79 377.83 L722.79 420.6 Z" fill="#4a7ebf"/>
<rect x="722.79" y="378.13" width="1.8" height="42.47" fill="#36598a"/>
<path d="M718.19 379.03 Q718.19 377.63 719.39 377.63 L723.89 377.63 L724.59 378.43 L724.59 379.03 Z" fill="#3d679c"/>
<text x="720.29" y="403.66" class="bl">1</text>
<path d="M730.58 420.6 L730.58 292.79 Q730.58 291.49 731.88 291.49 L735.48 291.49 L735.48 420.6 Z" fill="#4a7ebf"/>
<rect x="735.48" y="291.79" width="1.8" height="128.81" fill="#36598a"/>
<path d="M730.88 292.69 Q730.88 291.29 732.08 291.29 L736.58 291.29 L737.27 292.09 L737.27 292.69 Z" fill="#3d679c"/>
<text x="732.98" y="360.50" class="bl">3</text>
<path d="M743.26 420.6 L743.26 335.96 Q743.26 334.66 744.56 334.66 L748.16 334.66 L748.16 420.6 Z" fill="#4a7ebf"/>
<rect x="748.16" y="334.96" width="1.8" height="85.64" fill="#36598a"/>
<path d="M743.56 335.86 Q743.56 334.46 744.76 334.46 L749.26 334.46 L749.96 335.26 L749.96 335.86 Z" fill="#3d679c"/>
<text x="745.66" y="382.08" class="bl">2</text>
<path d="M755.95 420.6 L755.95 292.79 Q755.95 291.49 757.25 291.49 L760.85 291.49 L760.85 420.6 Z" fill="#4a7ebf"/>
<rect x="760.85" y="291.79" width="1.8" height="128.81" fill="#36598a"/>
<path d="M756.25 292.69 Q756.25 291.29 757.45 291.29 L761.95 291.29 L762.64 292.09 L762.64 292.69 Z" fill="#3d679c"/>
<text x="758.35" y="360.50" class="bl">3</text>
<path d="M768.63 420.6 L768.63 379.13 Q768.63 377.83 769.93 377.83 L773.53 377.83 L773.53 420.6 Z" fill="#4a7ebf"/>
<rect x="773.53" y="378.13" width="1.8" height="42.47" fill="#36598a"/>
<path d="M768.93 379.03 Q768.93 377.63 770.13 377.63 L774.63 377.63 L775.33 378.43 L775.33 379.03 Z" fill="#3d679c"/>
<text x="771.03" y="403.66" class="bl">1</text>
<text transform="translate(37.70,428) rotate(-90) scale(0.93,1)" class="xl">10/04/2020</text>
<text transform="translate(50.39,428) rotate(-90) scale(0.93,1)" class="xl">13/04/2020</text>
<text transform="translate(63.08,428) rotate(-90) scale(0.93,1)" class="xl">19/04/2020</text>
<text transform="translate(75.77,428) rotate(-90) scale(0.93,1)" class="xl">20/04/2020</text>
<text transform="translate(88.46,428) rotate(-90) scale(0.93,1)" class="xl">21/04/2020</text>
<text transform="translate(101.15,428) rotate(-90) scale(0.93,1)" class="xl">22/04/2020</text>
<text transform="translate(113.84,428) rotate(-90) scale(0.93,1)" class="xl">25/04/2020</text>
<text transform="translate(126.53,428) rotate(-90) scale(0.93,1)" class="xl">27/04/2020</text>
<text transform="translate(139.22,428) rotate(-90) scale(0.93,1)" class="xl">28/04/2020</text>
<text transform="translate(151.91,428) rotate(-90) scale(0.93,1)" class="xl">30/04/2020</text>
<text transform="translate(164.60,428) rotate(-90) scale(0.93,1)" class="xl">02/05/2020</text>
<text transform="translate(177.29,428) rotate(-90) scale(0.93,1)" class="xl">04/05/2020</text>
<text transform="translate(189.98,428) rotate(-90) scale(0.93,1)" class="xl">06/05/2020</text>
<text transform="translate(202.67,428) rotate(-90) scale(0.93,1)" class="xl">08/05/2020</text>
<text transform="translate(215.36,428) rotate(-90) scale(0.93,1)" class="xl">10/05/2020</text>
<text transform="translate(228.05,428) rotate(-90) scale(0.93,1)" class="xl">14/05/2020</text>
<text transform="translate(240.74,428) rotate(-90) scale(0.93,1)" class="xl">15/05/2020</text>
<text transform="translate(253.43,428) rotate(-90) scale(0.93,1)" class="xl">16/05/2020</text>
<text transform="translate(266.12,428) rotate(-90) scale(0.93,1)" class="xl">17/05/2020</text>
<text transform="translate(278.81,428) rotate(-90) scale(0.93,1)" class="xl">21/05/2020</text>
<text transform="translate(291.50,428) rotate(-90) scale(0.93,1)" class="xl">22/05/2020</text>
<text transform="translate(304.19,428) rotate(-90) scale(0.93,1)" class="xl">24/05/2020</text>
<text transform="translate(316.88,428) rotate(-90) scale(0.93,1)" class="xl">25/05/2020</text>
<text transform="translate(329.57,428) rotate(-90) scale(0.93,1)" class="xl">27/05/2020</text>
<text transform="translate(342.26,428) rotate(-90) scale(0.93,1)" class="xl">28/05/2020</text>
<text transform="translate(354.95,428) rotate(-90) scale(0.93,1)" class="xl">29/05/2020</text>
<text transform="translate(367.64,428) rotate(-90) scale(0.93,1)" class="xl">30/05/2020</text>
<text transform="translate(380.33,428) rotate(-90) scale(0.93,1)" class="xl">31/05/2020</text>
<text transform="translate(393.02,428) rotate(-90) scale(0.93,1)" class="xl">01/06/2020</text>
<text transform="translate(405.71,428) rotate(-90) scale(0.93,1)" class="xl">03/06/2020</text>
<text transform="translate(418.40,428) rotate(-90) scale(0.93,1)" class="xl">04/06/2020</text>
<text transform="translate(431.09,428) rotate(-90) scale(0.93,1)" class="xl">05/06/2020</text>
<text transform="translate(443.78,428) rotate(-90) scale(0.93,1)" class="xl">06/06/2020</text>
<text transform="translate(456.47,428) rotate(-90) scale(0.93,1)" class="xl">07/06/2020</text>
<text transform="translate(469.16,428) rotate(-90) scale(0.93,1)" class="xl">08/06/2020</text>
<text transform="translate(481.85,428) rotate(-90) scale(0.93,1)" class="xl">09/06/2020</text>
<text transform="translate(494.54,428) rotate(-90) scale(0.93,1)" class="xl">10/06/2020</text>
<text transform="translate(507.23,428) rotate(-90) scale(0.93,1)" class="xl">11/06/2020</text>
<text transform="translate(519.92,428) rotate(-90) scale(0.93,1)" class="xl">12/06/2020</text>
<text transform="translate(532.61,428) rotate(-90) scale(0.93,1)" class="xl">13/06/2020</text>
<text transform="translate(545.30,428) rotate(-90) scale(0.93,1)" class="xl">14/06/2020</text>
<text transform="translate(557.99,428) rotate(-90) scale(0.93,1)" class="xl">15/06/2020</text>
<text transform="translate(570.68,428) rotate(-90) scale(0.93,1)" class="xl">16/06/2020</text>
<text transform="translate(583.37,428) rotate(-90) scale(0.93,1)" class="xl">17/06/2020</text>
<text transform="translate(596.06,428) rotate(-90) scale(0.93,1)" class="xl">18/06/2020</text>
<text transform="translate(608.75,428) rotate(-90) scale(0.93,1)" class="xl">19/06/2020</text>
<text transform="translate(621.44,428) rotate(-90) scale(0.93,1)" class="xl">20/06/2020</text>
<text transform="translate(634.13,428) rotate(-90) scale(0.93,1)" class="xl">21/06/2020</text>
<text transform="translate(646.82,428) rotate(-90) scale(0.93,1)" class="xl">22/06/2020</text>
<text transform="translate(659.51,428) rotate(-90) scale(0.93,1)" class="xl">23/06/2020</text>
<text transform="translate(672.20,428) rotate(-90) scale(0.93,1)" class="xl">24/06/2020</text>
<text transform="translate(684.89,428) rotate(-90) scale(0.93,1)" class="xl">25/06/2020</text>
<text transform="translate(697.58,428) rotate(-90) scale(0.93,1)" class="xl">26/06/2020</text>
<text transform="translate(710.27,428) rotate(-90) scale(0.93,1)" class="xl">27/06/2020</text>
<text transform="translate(722.96,428) rotate(-90) scale(0.93,1)" class="xl">28/06/2020</text>
<text transform="translate(735.65,428) rotate(-90) scale(0.93,1)" class="xl">29/06/2020</text>
<text transform="translate(748.34,428) rotate(-90) scale(0.93,1)" class="xl">30/06/2020</text>
<text transform="translate(761.03,428) rotate(-90) scale(0.93,1)" class="xl">01/07/2020</text>
<text transform="translate(773.72,428) rotate(-90) scale(0.93,1)" class="xl">02/07/2020</text>
</svg>
</body></html>
